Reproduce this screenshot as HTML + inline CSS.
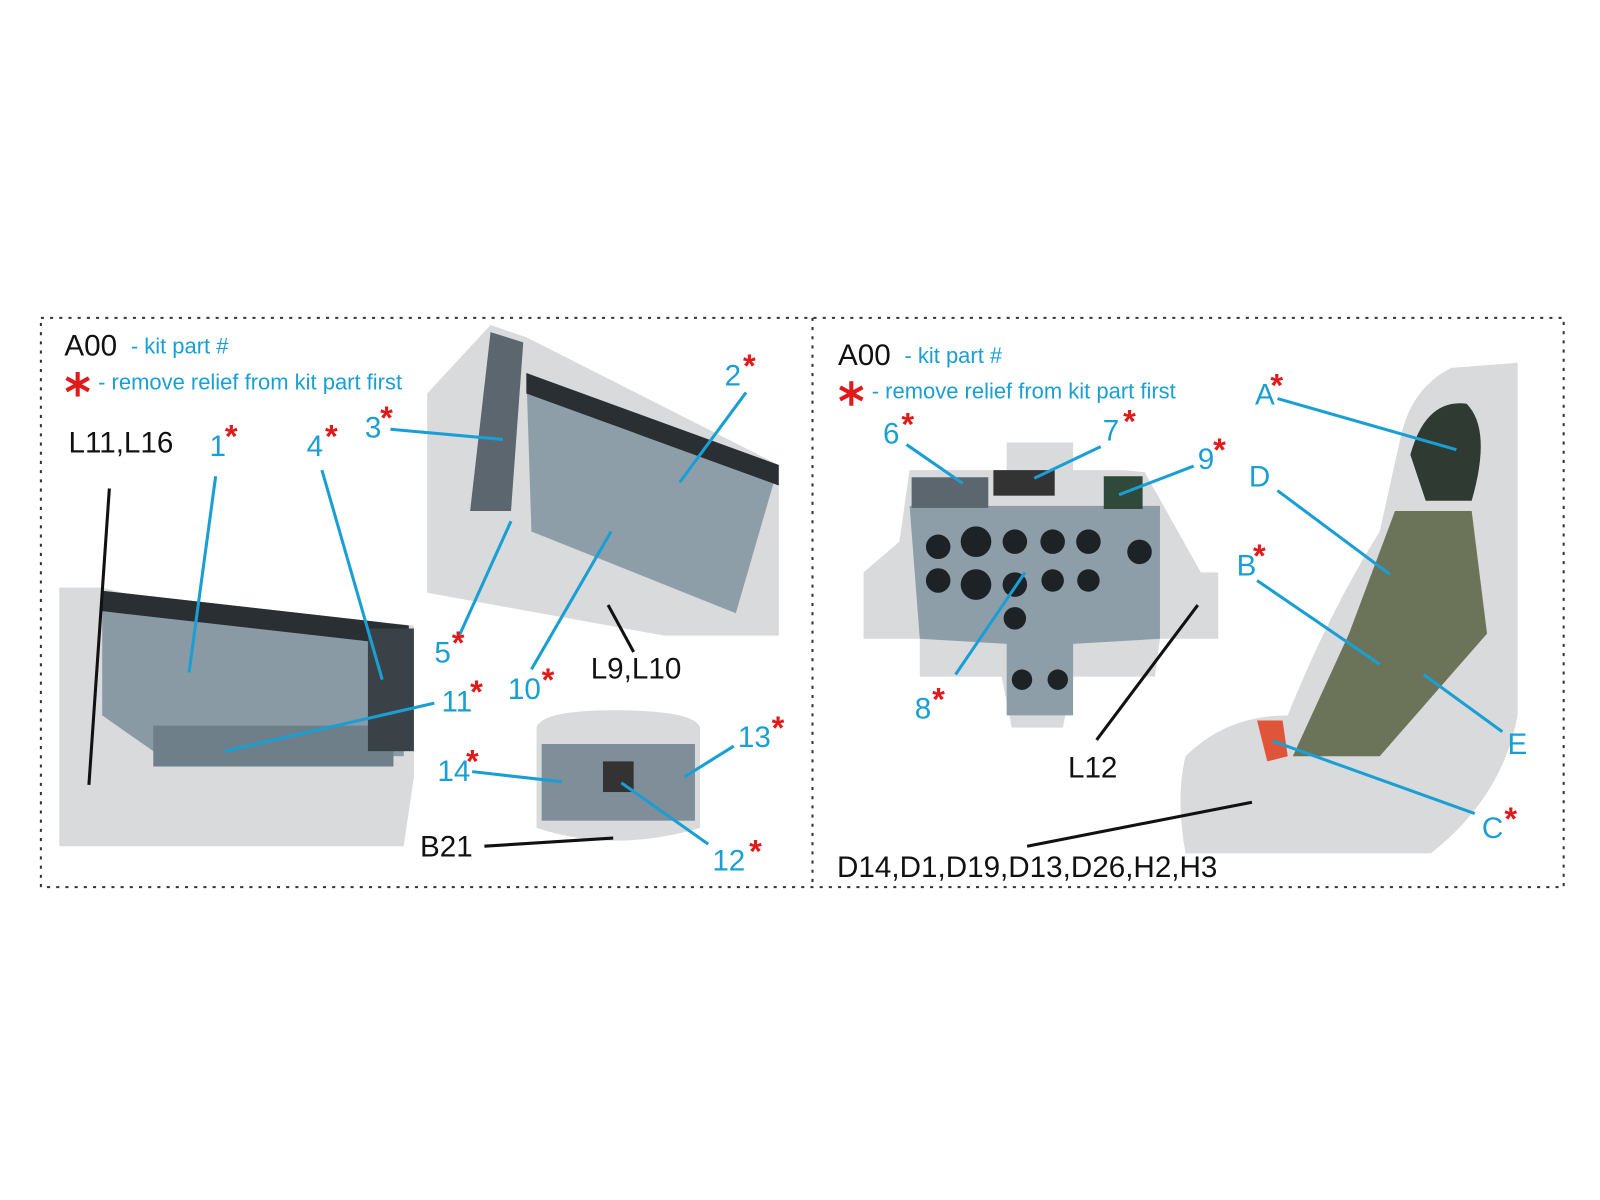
<!DOCTYPE html>
<html><head><meta charset="utf-8"><style>
html,body{margin:0;padding:0;background:#fff;}
svg{display:block;}
text{font-family:"Liberation Sans",sans-serif;}
.b{fill:#1a9fd4;font-size:29px;}
.k{fill:#111;font-size:29px;}
.s{fill:#e01a1a;font-size:32px;font-weight:bold;}
.l{stroke:#1a9fd4;stroke-width:3;fill:none;}
.d{stroke:#111;stroke-width:3;fill:none;}
</style></head><body>
<svg width="1600" height="1200" viewBox="0 0 1600 1200">
<rect width="1600" height="1200" fill="#fff"/>
<g transform="scale(1.022)">
<rect x="40" y="311" width="1490" height="557" fill="none" stroke="#333" stroke-width="2" stroke-dasharray="3,6"/>
<line x1="795" y1="311" x2="795" y2="868" stroke="#333" stroke-width="2" stroke-dasharray="3,6"/>

<polygon points="58,575 100,575 140,585 405,612 405,760 395,828 58,828" fill="#d9dadc"/>
<polygon points="100,578 400,612 395,740 150,735 100,700" fill="#8a9aa5"/>
<polygon points="100,578 400,612 400,632 100,598" fill="#2a2f33"/>
<rect x="150" y="710" width="235" height="40" fill="#6f7f8a"/>
<rect x="360" y="615" width="45" height="120" fill="#3a4248"/>
<polygon points="418,385 480,318 515,330 762,455 762,622 650,622 418,580" fill="#d9dadc"/>
<polygon points="480,325 512,335 500,500 460,500" fill="#5b666e"/>
<polygon points="515,365 762,455 720,600 520,520" fill="#8e9ea8"/>
<polygon points="515,365 762,455 762,475 515,385" fill="#2a2f33"/>
<path d="M525,712 Q530,695 600,695 Q680,695 685,712 L685,810 Q600,835 525,810 Z" fill="#d9dadc"/>
<rect x="530" y="728" width="150" height="75" fill="#7f8e98"/>
<rect x="590" y="745" width="30" height="30" fill="#333"/>

<polygon points="985,433 1050,433 1050,460 1100,460 1120,462 1175,560 1192,560 1192,625 1135,625 1130,662 1050,662 1040,712 990,712 980,662 900,662 900,625 845,625 845,560 880,530 890,460 985,460" fill="#d9dadc"/>
<polygon points="890,495 1135,495 1135,625 1050,630 1050,700 985,700 985,630 900,625" fill="#8e9ea8"/>
<rect x="892" y="467" width="75" height="30" fill="#5b666e"/>
<rect x="972" y="460" width="60" height="25" fill="#333"/>
<rect x="1080" y="466" width="38" height="32" fill="#2f4a3a"/>
<g fill="#1d2226">
<circle cx="918" cy="535" r="12"/><circle cx="955" cy="530" r="15"/><circle cx="993" cy="530" r="12"/><circle cx="1030" cy="530" r="12"/>
<circle cx="1065" cy="530" r="12"/><circle cx="918" cy="568" r="12"/><circle cx="955" cy="572" r="15"/><circle cx="993" cy="572" r="12"/>
<circle cx="1030" cy="568" r="11"/><circle cx="1065" cy="568" r="11"/><circle cx="1115" cy="540" r="12"/><circle cx="993" cy="605" r="11"/>
<circle cx="1000" cy="665" r="10"/><circle cx="1035" cy="665" r="10"/></g>
<path d="M1370,430 Q1380,380 1420,360 L1485,355 L1485,700 Q1470,780 1400,835 L1160,835 Q1150,780 1160,740 Q1200,700 1260,700 Q1300,600 1350,520 Z" fill="#d9dadc"/>
<path d="M1380,445 Q1395,390 1435,395 Q1460,420 1440,490 L1395,490 Z" fill="#2f3a33"/>
<polygon points="1365,500 1440,500 1455,620 1350,740 1265,740 1320,620" fill="#6b7358"/>
<path d="M1230,705 L1255,705 L1260,740 L1240,745 Z" fill="#e0553a"/>

<line class="d" x1="107" y1="478" x2="87" y2="768"/>
<line class="l" x1="211" y1="466" x2="185" y2="658"/>
<line class="l" x1="315" y1="460" x2="374" y2="665"/>
<line class="l" x1="382" y1="420" x2="492" y2="430"/>
<line class="l" x1="730" y1="384" x2="665" y2="472"/>
<line class="l" x1="448" y1="625" x2="500" y2="510"/>
<line class="l" x1="520" y1="655" x2="598" y2="520"/>
<line class="d" x1="620" y1="638" x2="595" y2="592"/>
<line class="l" x1="425" y1="688" x2="220" y2="735"/>
<line class="l" x1="718" y1="730" x2="670" y2="760"/>
<line class="l" x1="462" y1="755" x2="550" y2="765"/>
<line class="l" x1="693" y1="826" x2="608" y2="766"/>
<line class="d" x1="474" y1="828" x2="600" y2="820"/>
<line class="l" x1="887" y1="435" x2="942" y2="473"/>
<line class="l" x1="1077" y1="437" x2="1012" y2="468"/>
<line class="l" x1="1168" y1="456" x2="1095" y2="484"/>
<line class="l" x1="935" y1="660" x2="1003" y2="560"/>
<line class="d" x1="1073" y1="724" x2="1172" y2="592"/>
<line class="l" x1="1250" y1="390" x2="1425" y2="440"/>
<line class="l" x1="1250" y1="480" x2="1360" y2="562"/>
<line class="l" x1="1230" y1="568" x2="1350" y2="650"/>
<line class="l" x1="1470" y1="716" x2="1393" y2="660"/>
<line class="l" x1="1443" y1="796" x2="1245" y2="725"/>
<line class="d" x1="1005" y1="828" x2="1225" y2="785"/>

<text x="63" y="348" class="k" font-size="30">A00</text><text x="128" y="346" fill="#1a9fd4" font-size="21.5">- kit part #</text>
<g stroke="#e01a1a" stroke-width="4"><line x1="76" y1="364" x2="76" y2="388"/><line x1="65" y1="370" x2="87" y2="382"/><line x1="65" y1="382" x2="87" y2="370"/></g>
<text x="96" y="381" fill="#1a9fd4" font-size="21.5">- remove relief from kit part first</text>
<text x="820" y="357" class="k" font-size="30">A00</text><text x="885" y="355" fill="#1a9fd4" font-size="21.5">- kit part #</text>
<g stroke="#e01a1a" stroke-width="4"><line x1="833" y1="373" x2="833" y2="397"/><line x1="822" y1="379" x2="844" y2="391"/><line x1="822" y1="391" x2="844" y2="379"/></g>
<text x="853" y="390" fill="#1a9fd4" font-size="21.5">- remove relief from kit part first</text>

<text x="67" y="443" class="k">L11,L16</text>
<text x="205" y="446" class="b">1</text><text x="220" y="438" class="s">*</text>
<text x="300" y="446" class="b">4</text><text x="318" y="438" class="s">*</text>
<text x="357" y="428" class="b">3</text><text x="372" y="420" class="s">*</text>
<text x="709" y="377" class="b">2</text><text x="727" y="369" class="s">*</text>
<text x="425" y="648" class="b">5</text><text x="442" y="640" class="s">*</text>
<text x="497" y="684" class="b">10</text><text x="530" y="676" class="s">*</text>
<text x="578" y="664" class="k">L9,L10</text>
<text x="432" y="696" class="b">11</text><text x="460" y="688" class="s">*</text>
<text x="722" y="731" class="b">13</text><text x="755" y="723" class="s">*</text>
<text x="428" y="764" class="b">14</text><text x="456" y="756" class="s">*</text>
<text x="697" y="852" class="b">12</text><text x="733" y="844" class="s">*</text>
<text x="411" y="838" class="k">B21</text>
<text x="864" y="434" class="b">6</text><text x="882" y="426" class="s">*</text>
<text x="1079" y="431" class="b">7</text><text x="1099" y="423" class="s">*</text>
<text x="1172" y="459" class="b">9</text><text x="1187" y="451" class="s">*</text>
<text x="895" y="703" class="b">8</text><text x="912" y="695" class="s">*</text>
<text x="1045" y="761" class="k">L12</text>
<text x="1228" y="396" class="b">A</text><text x="1243" y="388" class="s">*</text>
<text x="1222" y="476" class="b">D</text>
<text x="1210" y="563" class="b">B</text><text x="1226" y="555" class="s">*</text>
<text x="1475" y="738" class="b">E</text>
<text x="1450" y="820" class="b">C</text><text x="1472" y="812" class="s">*</text>
<text x="819" y="858" class="k">D14,D1,D19,D13,D26,H2,H3</text>
</g>
</svg>
</body></html>
